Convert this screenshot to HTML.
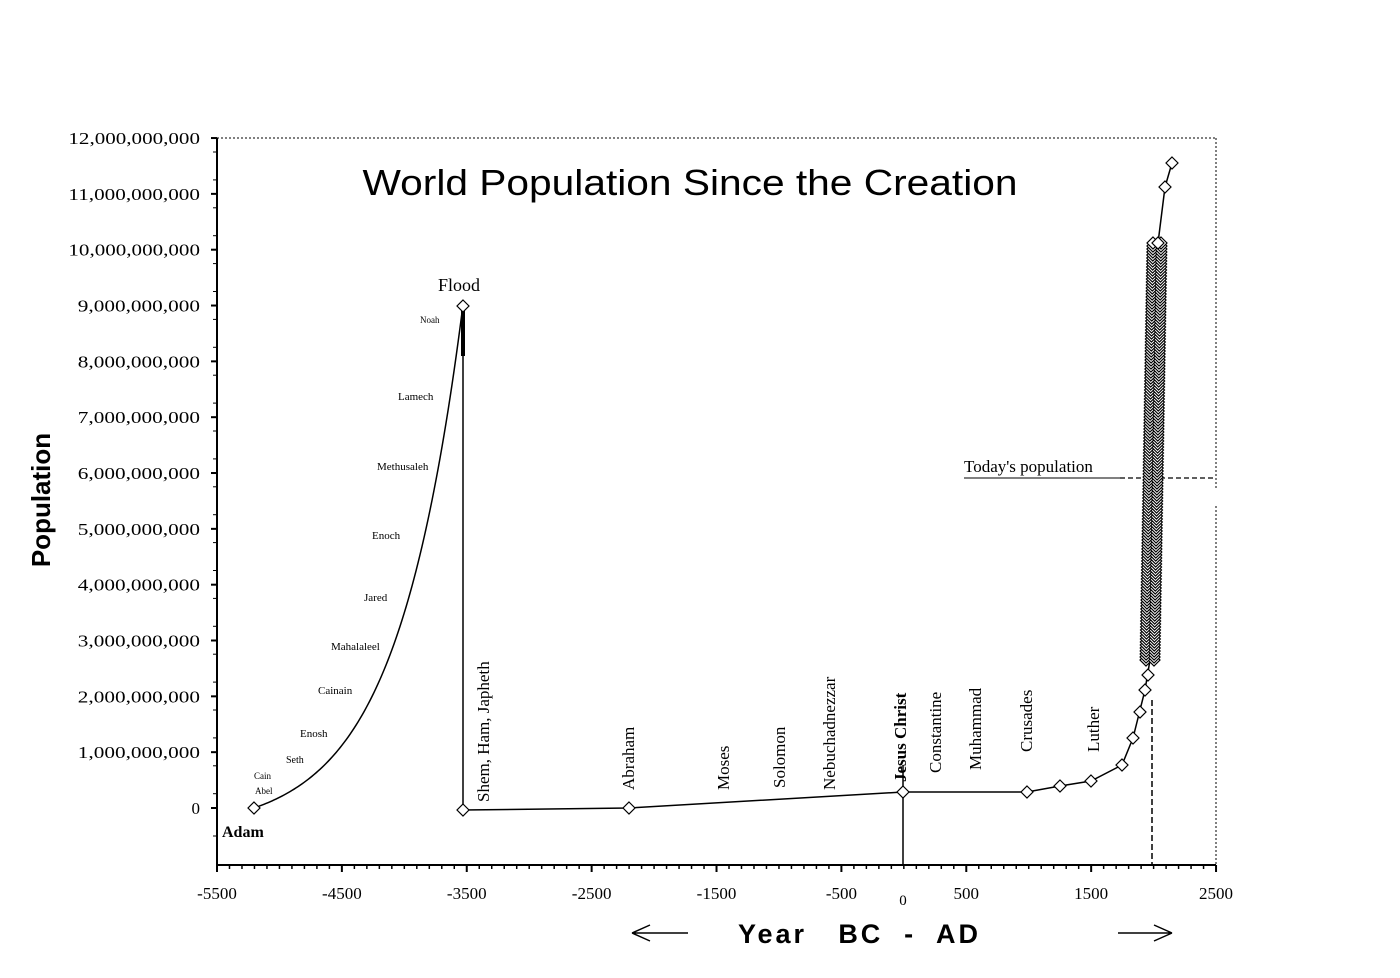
<!DOCTYPE html>
<html><head><style>
body{margin:0;background:#fff;width:1400px;height:973px;overflow:hidden}
svg text{font-family:"Liberation Serif",serif}
.s{font-family:"Liberation Sans",sans-serif}
</style></head><body>
<svg id="c" width="1400" height="973" xmlns="http://www.w3.org/2000/svg">
<g stroke="#000" fill="none">
<line x1="217" y1="138" x2="1216" y2="138" stroke-dasharray="2,2"/>
<line x1="1216" y1="138" x2="1216" y2="490" stroke-dasharray="2,2"/>
<line x1="1216" y1="506" x2="1216" y2="865" stroke-dasharray="2,2"/>
<line x1="217" y1="138" x2="217" y2="866" stroke-width="2"/>
<line x1="217" y1="865" x2="1216" y2="865" stroke-width="2"/>
<line x1="903" y1="765" x2="903" y2="865" stroke-width="1.5"/>
<line x1="1152" y1="700" x2="1152" y2="865" stroke-width="1.5" stroke-dasharray="6,3"/>
<line x1="1120" y1="478" x2="1216" y2="478" stroke-width="1.2" stroke-dasharray="5,3"/>
<line x1="964" y1="478" x2="1120" y2="478" stroke-width="1"/>
<line x1="463" y1="305" x2="463" y2="810" stroke-width="1.5"/>
<line x1="463" y1="305" x2="463" y2="356" stroke-width="4"/>
<polyline stroke-width="1.5" points="463,810 629,808 903,792 1027,792 1060,786 1091,781 1122,765 1133,738 1140,710 1145,690 1150,660 1153,560 1156,450 1158,243 1165,187 1172,163"/>
<path d="M632,933 H688 M632,933 L650,925 M632,933 L650,941" stroke-width="1.5"/>
<path d="M1118,933 H1172 M1172,933 L1154,925 M1172,933 L1154,941" stroke-width="1.5"/>
</g>
<g id="ticks" stroke="#000"></g>
<g id="curve"></g>
<g id="dm" fill="#fff" stroke="#000" stroke-width="1.2"></g>
<g id="yl" font-size="17" text-anchor="end"></g>
<g id="xl" font-size="17" text-anchor="middle"></g>
<text x="690" y="195" font-size="36" text-anchor="middle" class="s" textLength="655" lengthAdjust="spacingAndGlyphs">World Population Since the Creation</text>
<text x="50" y="500" font-size="26" font-weight="bold" text-anchor="middle" class="s" transform="rotate(-90 50 500)">Population</text>
<text x="738" y="943" font-size="27" font-weight="bold" class="s" textLength="240" lengthAdjust="spacing" xml:space="preserve">Year   BC  -  AD</text>
<text x="903" y="905" font-size="15" text-anchor="middle">0</text>
<text x="438" y="291" font-size="18">Flood</text>
<text x="222" y="837" font-size="16" font-weight="bold">Adam</text>
<text x="420" y="323" font-size="9">Noah</text>
<text x="398" y="400" font-size="11">Lamech</text>
<text x="377" y="470" font-size="11">Methusaleh</text>
<text x="372" y="539" font-size="11">Enoch</text>
<text x="364" y="601" font-size="11">Jared</text>
<text x="331" y="650" font-size="11">Mahalaleel</text>
<text x="318" y="694" font-size="11">Cainain</text>
<text x="300" y="737" font-size="11">Enosh</text>
<text x="286" y="763" font-size="10">Seth</text>
<text x="254" y="779" font-size="9">Cain</text>
<text x="255" y="794" font-size="9">Abel</text>
<text x="964" y="472" font-size="17">Today's population</text>
<g font-size="17">
<text transform="translate(489,802) rotate(-90)">Shem, Ham, Japheth</text>
<text transform="translate(634,790) rotate(-90)">Abraham</text>
<text transform="translate(729,790) rotate(-90)">Moses</text>
<text transform="translate(785,788) rotate(-90)">Solomon</text>
<text transform="translate(835,790) rotate(-90)">Nebuchadnezzar</text>
<text transform="translate(906,782) rotate(-90)" font-weight="bold">Jesus Christ</text>
<text transform="translate(941,773) rotate(-90)">Constantine</text>
<text transform="translate(981,770) rotate(-90)">Muhammad</text>
<text transform="translate(1032,752) rotate(-90)">Crusades</text>
<text transform="translate(1099,752) rotate(-90)">Luther</text>
</g>
</svg>
<script>
var NS="http://www.w3.org/2000/svg";
function el(p,t,a,txt){var e=document.createElementNS(NS,t);for(var k in a)e.setAttribute(k,a[k]);if(txt!=null)e.textContent=txt;document.getElementById(p).appendChild(e);}
function X(yr){return 217+(yr+5500)*0.12488;}
var fmt=function(n){return n.toString().replace(/\B(?=(\d{3})+(?!\d))/g,",");};
for(var i=0;i<=12;i++){var y=808-i*55.83;el("ticks","line",{x1:211,x2:217,y1:y,y2:y,"stroke-width":2});var s=fmt(i*1000000000);var a={x:200,y:y+6};if(s.length>1){a.textLength=(s.length*9.4);a.lengthAdjust="spacingAndGlyphs";}el("yl","text",a,s);}
for(var i=0;i<24;i++){var y=138+i*27.9+14;el("ticks","line",{x1:213,x2:217,y1:y,y2:y,"stroke-width":1});}
el("ticks","line",{x1:213,x2:217,y1:836,y2:836});
for(var yr=-5500;yr<=2500;yr+=100){var x=X(yr);var maj=(yr+5500)%1000==0;el("ticks","line",{x1:x,x2:x,y1:865,y2:maj?872:869,"stroke-width":maj?2:1.5});}
for(var yr=-5500;yr<=2500;yr+=1000){if(yr!=0)el("xl","text",{x:X(yr),y:899},yr);}
var pts=[];for(var x=254;x<=463;x+=2){var p=0.41*(Math.exp(0.015*(x-254))-1);pts.push(x+","+(808-p*55.83));}
el("curve","polyline",{points:pts.join(" "),fill:"none",stroke:"#000","stroke-width":1.5});
function d(x,y){el("dm","path",{d:"M"+x+","+(y-6)+"L"+(x+6)+","+y+"L"+x+","+(y+6)+"L"+(x-6)+","+y+"Z"});}
for(var y=660;y>=243;y-=3){var x=1150+(660-y)/417*7;d(x-4,y);d(x+4,y);}
[[254,808],[463,810],[463,306],[629,808],[903,792],[1027,792],[1060,786],[1091,781],[1122,765],[1133,738],[1140,712],[1145,690],[1148,675],[1158,243],[1165,187],[1172,163]].forEach(function(q){d(q[0],q[1]);});
</script>
</body></html>
